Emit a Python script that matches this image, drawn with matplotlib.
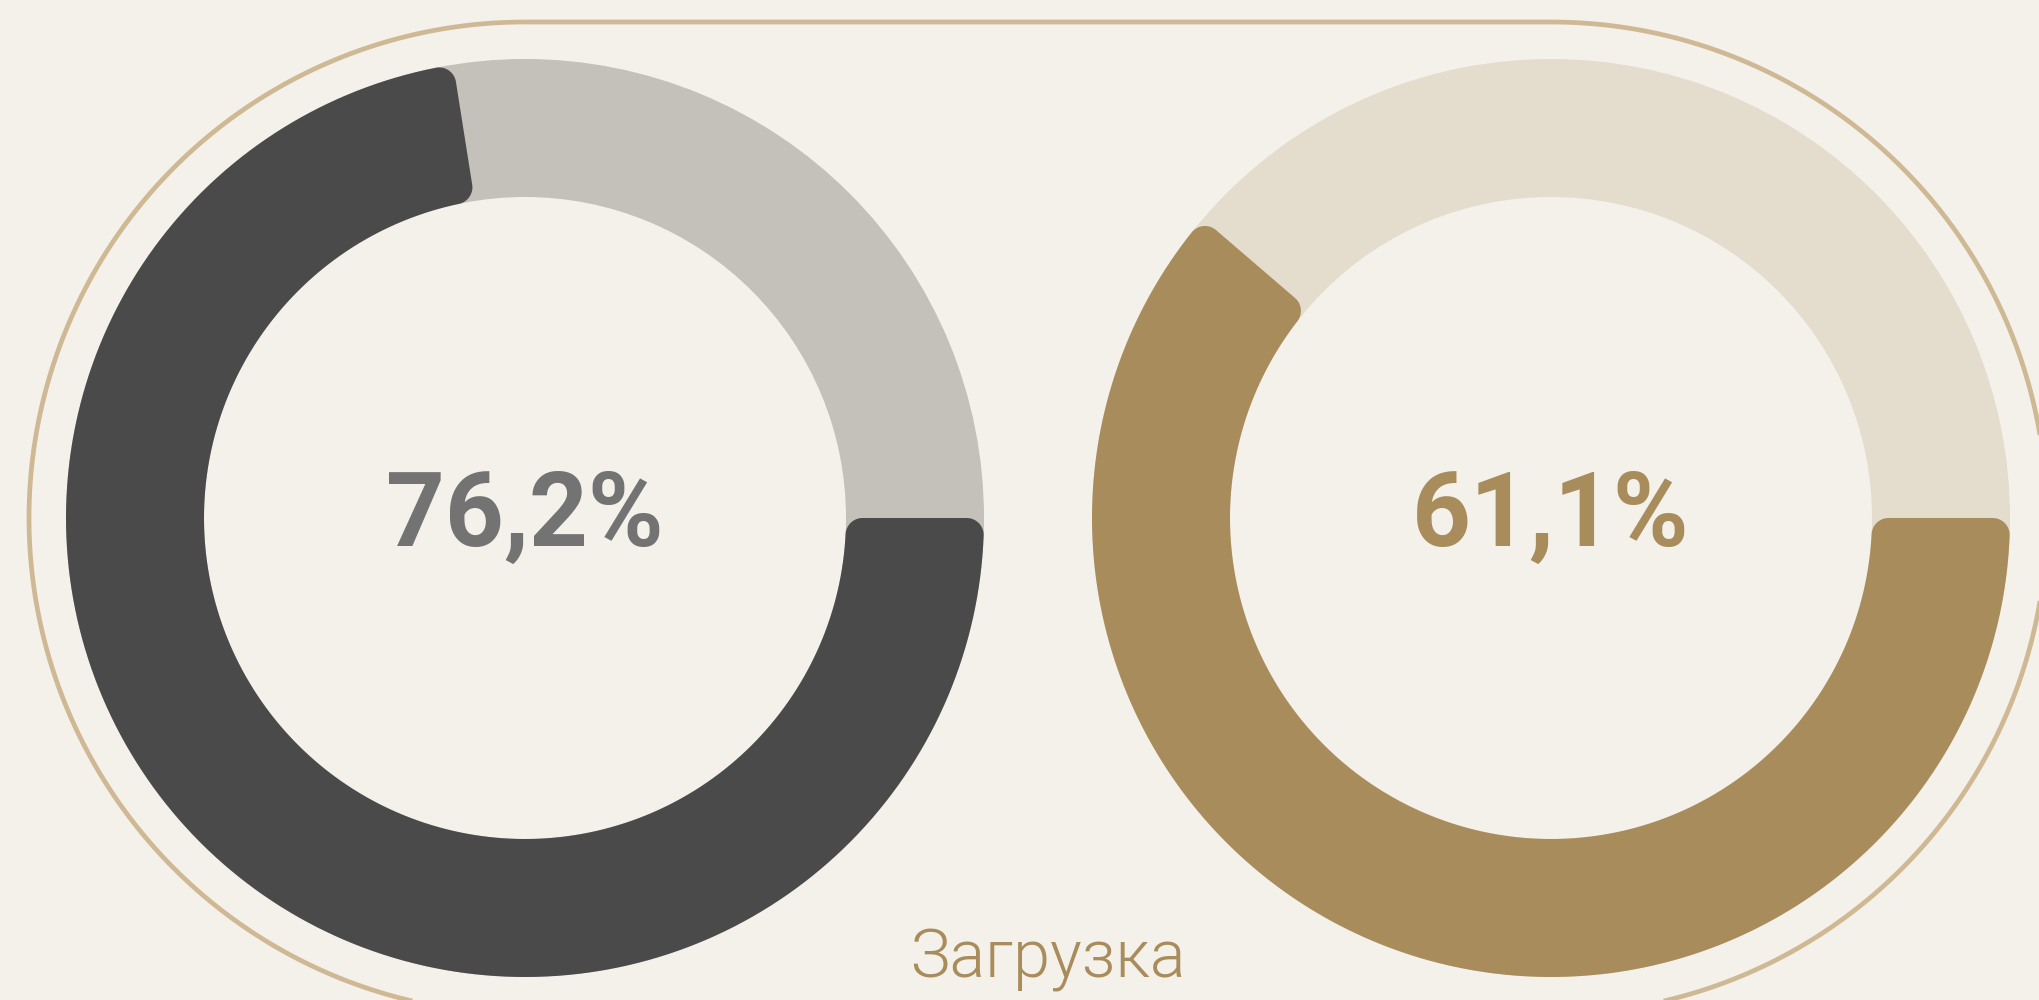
import numpy as np
import matplotlib.pyplot as plt
from matplotlib.patches import Wedge, PathPatch
from matplotlib.path import Path

plt.rcParams['font.family'] = ['Roboto', 'DejaVu Sans']

# data
values = [76.2, 61.1]                 # shown in the centre
arc_share = [0.725, 0.613]            # share of the ring filled, as drawn
fill_colors = ['#4a4a4a', '#a98c5b']
track_colors = ['#c4c1bb', '#e4dccd']
text_colors = ['#737373', '#a98c5b']
caption = 'Загрузка'

W, H = 2039, 1000
centers = [(525, 482), (1551, 482)]
r_out, r_in = 459, 321
corner = 17


def arc_pts(c, r, a0, a1, n=200):
    t = np.linspace(a0, a1, n)
    return np.column_stack([c[0] + r * np.cos(t), c[1] + r * np.sin(t)])


def fillet(fc, p1, p2, rc, n=30):
    t1 = np.arctan2(p1[1] - fc[1], p1[0] - fc[0])
    t2 = np.arctan2(p2[1] - fc[1], p2[0] - fc[0])
    d = (t2 - t1 + np.pi) % (2 * np.pi) - np.pi
    return arc_pts(fc, rc, t1, t1 + d, n)


def closed_path(v):
    v = np.vstack([v, v[:1]])
    codes = [Path.MOVETO] + [Path.LINETO] * (len(v) - 2) + [Path.CLOSEPOLY]
    return Path(v, codes)


def rounded_sector(c, R, r, a0, a1, rc):
    # annular sector a0 -> a1 (radians, ccw) with rounded corners
    c = np.array(c, float)
    u = lambda a: np.array([np.cos(a), np.sin(a)])
    do = np.arcsin(rc / (R - rc))
    di = np.arcsin(rc / (r + rc))
    pts = []
    pts.append(arc_pts(c, R, a0 + do, a1 - do))
    # corners at a1
    fo1 = c + (R - rc) * u(a1 - do)
    po1 = c + (R - rc) * np.cos(do) * u(a1)
    pts.append(fillet(fo1, c + R * u(a1 - do), po1, rc))
    fi1 = c + (r + rc) * u(a1 - di)
    pi1 = c + (r + rc) * np.cos(di) * u(a1)
    pts.append(fillet(fi1, pi1, c + r * u(a1 - di), rc))
    pts.append(arc_pts(c, r, a1 - di, a0 + di))
    # corners at a0
    fi0 = c + (r + rc) * u(a0 + di)
    pi0 = c + (r + rc) * np.cos(di) * u(a0)
    pts.append(fillet(fi0, c + r * u(a0 + di), pi0, rc))
    fo0 = c + (R - rc) * u(a0 + do)
    po0 = c + (R - rc) * np.cos(do) * u(a0)
    pts.append(fillet(fo0, po0, c + R * u(a0 + do), rc))
    return closed_path(np.vstack(pts))


fig = plt.figure(figsize=(W / 100, H / 100), dpi=100)
fig.patch.set_facecolor('#f4f1eb')
ax = fig.add_axes([0, 0, 1, 1])
ax.set_xlim(0, W)
ax.set_ylim(0, H)
ax.set_aspect('equal')
ax.axis('off')

# outline (stadium shape)
R_band = 496
(lx, ly), (rx, ry) = centers
band = np.vstack([
    arc_pts((lx, ly), R_band, np.pi / 2, 3 * np.pi / 2),
    arc_pts((rx, ry), R_band, -np.pi / 2, np.pi / 2),
])
ax.add_patch(PathPatch(closed_path(band), facecolor='none',
                       edgecolor='#cfb994', lw=3.4))

for c, share, v, fc, tc, txc in zip(centers, arc_share, values, fill_colors,
                                     track_colors, text_colors):
    ax.add_patch(Wedge(c, r_out, 0, 360, width=r_out - r_in, facecolor=tc,
                       edgecolor='none'))
    a0 = 2 * np.pi - share * 2 * np.pi
    ax.add_patch(PathPatch(rounded_sector(c, r_out, r_in, a0, 2 * np.pi, corner),
                           facecolor=fc, edgecolor='none'))
    label = f'{v:.1f}%'.replace('.', ',')
    ax.text(c[0], 454, label, ha='center', va='baseline', fontsize=74,
            fontweight='bold', color=txc)

ax.text(1048, 23, caption, ha='center', va='baseline', fontsize=48,
        fontweight=300, color='#a98c5b')

fig.savefig('out.png', dpi=100, facecolor=fig.get_facecolor())
